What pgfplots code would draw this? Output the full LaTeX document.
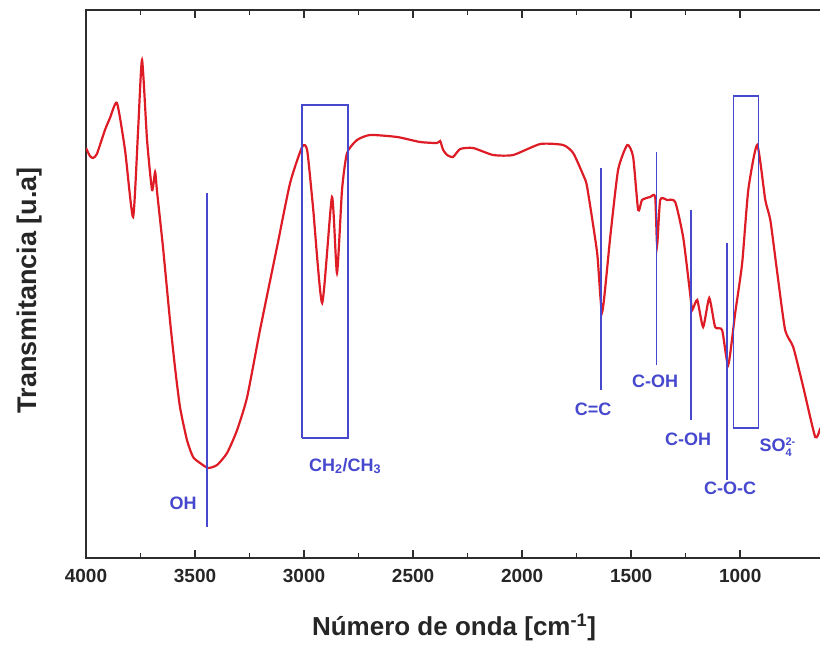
\documentclass[border=0pt]{standalone}
\usepackage{fontspec}
\setmainfont{Liberation Sans}
\usepackage{pgfplots}
\pgfplotsset{compat=1.18}
\definecolor{curve}{RGB}{222,28,38}
\definecolor{ann}{RGB}{70,72,205}
\definecolor{spine}{RGB}{45,45,45}
\begin{document}
\begin{tikzpicture}
\useasboundingbox (0,0) rectangle (820pt,646pt);
\begin{axis}[
  at={(86pt,88pt)}, anchor=south west,
  scale only axis, width=736pt, height=548pt,
  x dir=reverse, xmin=625, xmax=4000, ymin=88, ymax=636,
  xtick={1000,1500,2000,2500,3000,3500,4000},
  minor x tick num=1,
  ytick=\empty,
  tick align=inside,
  major tick length=8pt, minor tick length=5pt,
  every tick/.style={spine, line width=1.6pt},
  axis line style={spine, line width=2.2pt},
  /pgf/number format/assume math mode=true,
  /pgf/number format/1000 sep={},
  ticklabel style={font=\fontsize{19}{21}\selectfont\bfseries, text=black!85},
  xticklabel style={yshift=-8pt},
  xlabel={Número de onda [cm\textsuperscript{-1}]},
  ylabel={Transmitancia [u.a]},
  xlabel style={at={(axis description cs:0.5,-0.126)}, anchor=center, font=\fontsize{26}{28}\selectfont\bfseries, text=black!85},
  ylabel style={at={(axis description cs:-0.0763,0.489)}, anchor=center, rotate=0, font=\fontsize{27}{29}\selectfont\bfseries, text=black!85},
  clip=true,
]
\addplot[curve, line width=2.2pt, smooth, tension=0.35] coordinates {
(4000,498) (3982,490) (3968,488) (3950,492) (3913,516) (3890,528) (3858,543)
(3821,496) (3784,429) (3761,516) (3743,586) (3720,506) (3697,456) (3683,474)
(3674,454) (3647,399) (3615,326) (3592,279) (3569,239) (3537,206) (3509,189)
(3477,183) (3440,178) (3399,181) (3353,193) (3307,216) (3261,249)
(3202,316) (3124,399) (3064,463) (3009,499) (2986,496) (2959,439)
(2917,343) (2872,449) (2849,373) (2826,456) (2803,493) (2757,506) (2697,511)
(2573,509) (2468,504) (2390,503) (2376,505) (2362,496) (2344,491) (2317,489)
(2284,497) (2225,498) (2133,491) (2041,491) (1917,502) (1812,501) (1766,493)
(1720,471) (1702,459) (1656,393) (1633,334) (1596,409) (1560,476) (1518,501)
(1491,489) (1468,436) (1450,446) (1413,449) (1390,449) (1381,401) (1367,446)
(1335,446) (1298,444) (1261,408) (1229,351) (1220,336) (1197,346) (1170,319)
(1142,348) (1115,319) (1083,316) (1055,281) (1023,333) (991,383) (963,456)
(922,501) (885,446) (862,426) (830,373) (794,316) (757,299) (711,259)
(656,209) (633,218)
};
% annotation lines
\addplot[ann, line width=1.4pt] coordinates {(3445,453) (3445,119)};
\addplot[ann, line width=1.4pt] coordinates {(1638,478) (1638,256)};
\addplot[ann, line width=1.4pt] coordinates {(1385,494) (1385,281)};
\addplot[ann, line width=1.4pt] coordinates {(1225,436) (1225,226)};
\addplot[ann, line width=1.4pt] coordinates {(1060,403) (1060,166)};
% boxes
\addplot[ann, line width=1.4pt] coordinates {(3009,208) (3009,541) (2798,541) (2798,208) (3009,208)};
\addplot[ann, line width=1.4pt] coordinates {(1032,218) (1032,550) (917,550) (917,218) (1032,218)};
% labels
\tikzset{lab/.style={text=ann, font=\fontsize{18}{20}\selectfont\bfseries, inner sep=0pt}}
\node[lab] at (axis cs:3555,143) {OH};
\node[lab] at (axis cs:2812,180) {CH\textsubscript{2}/CH\textsubscript{3}};
\node[lab] at (axis cs:1674,237) {C=C};
\node[lab] at (axis cs:1390,265) {C-OH};
\node[lab] at (axis cs:1239,207) {C-OH};
\node[lab] at (axis cs:1046,158) {C-O-C};
\node[lab, anchor=west] at (axis cs:912,199) {SO$_{\mbox{\fontsize{11}{12}\selectfont\bfseries 4}}^{\mbox{\fontsize{11}{12}\selectfont\bfseries 2-}}$};
\end{axis}
\end{tikzpicture}
\end{document}
